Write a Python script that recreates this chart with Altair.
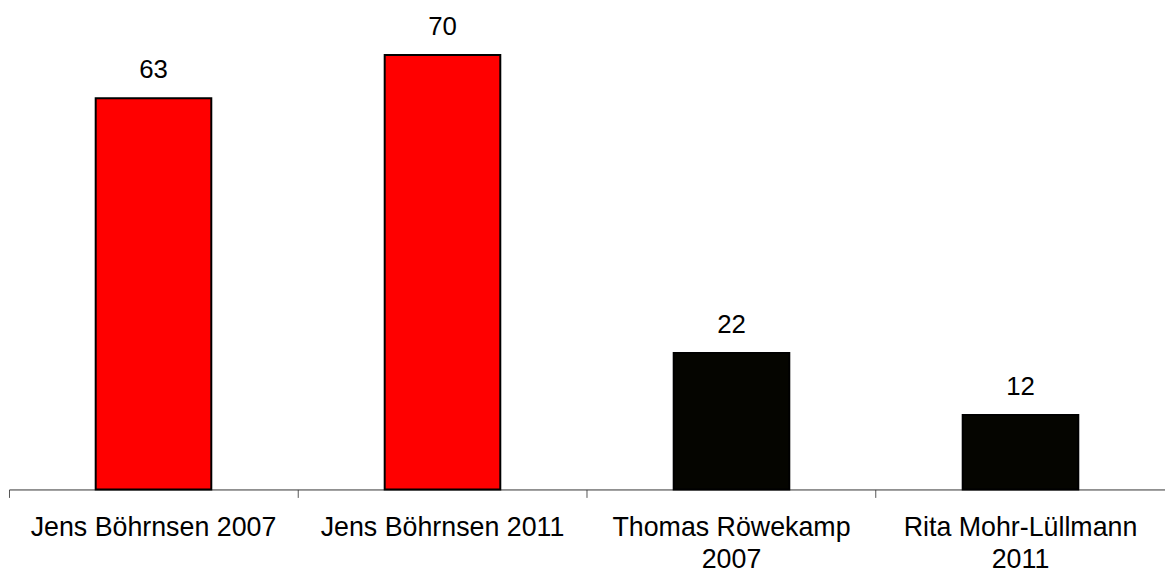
import altair as alt
import pandas as pd

categories = ["Jens Böhrnsen 2007", "Jens Böhrnsen 2011", "Thomas Röwekamp\n2007", "Rita Mohr-Lüllmann\n2011"]
values = [63, 70, 22, 12]
colors = ["#FF0000", "#FF0000", "#050500", "#050500"]

df = pd.DataFrame({"cat": categories, "value": values, "color": colors})

W = 1165
H = 483
FONT = "Liberation Sans"

x = alt.X(
    "cat:N",
    sort=categories,
    title=None,
    scale=alt.Scale(paddingInner=0, paddingOuter=0),
    axis=alt.Axis(
        bandPosition=0,
        labelExpr="split(datum.label, '\\n')",
        labelAngle=0,
        labelLimit=0,
        labelFont=FONT,
        labelFontSize=27,
        labelColor="#000000",
        labelLineHeight=33,
        labelPadding=17,
        labelBaseline="top",
        tickSize=8,
        tickColor="#555555",
        domainColor="#333333",
        domainWidth=1,
        ticks=True,
        grid=False,
    ),
)
y = alt.Y("value:Q", scale=alt.Scale(domain=[0, 77.2], nice=False), axis=None)

bars = alt.Chart(df).mark_bar(
    width=alt.RelativeBandSize(0.4), stroke="#000000", strokeWidth=2
).encode(x=x, y=y, color=alt.Color("color:N", scale=None, legend=None))

labels = alt.Chart(df).mark_text(
    dy=-20, baseline="alphabetic", font=FONT, fontSize=26, color="#000000"
).encode(x=x, y=y, text=alt.Text("value:Q"))

chart = (
    alt.layer(bars, labels)
    .properties(width=W, height=H, padding=0)
    .configure_view(stroke=None)
)

chart.save("out.html", embed_options={"renderer": "svg", "actions": False})
